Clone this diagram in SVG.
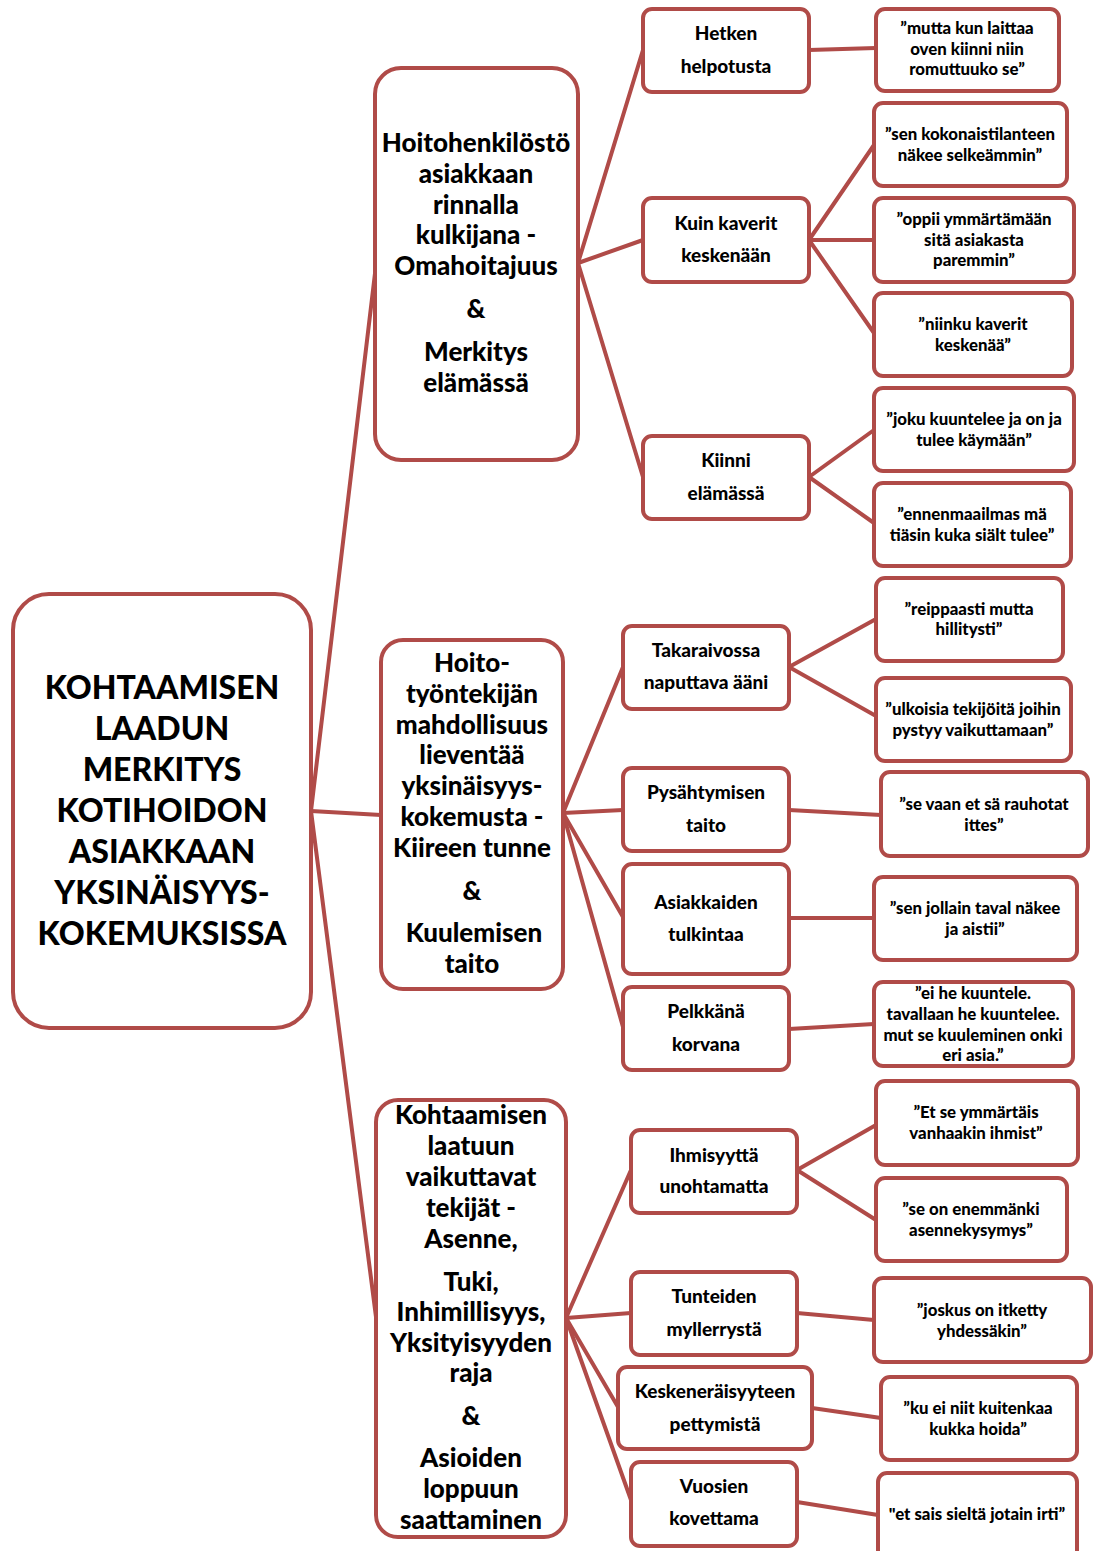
<svg xmlns="http://www.w3.org/2000/svg" width="1096" height="1551" viewBox="0 0 1096 1551">
<style>
.b{fill:#fff;stroke:#B04B48;stroke-width:4}
.c line{stroke:#B04B48;stroke-width:4;stroke-linecap:round}
text{font-family:Lato,"Open Sans","Liberation Sans",sans-serif;font-weight:900;fill:#000;text-anchor:middle}
.r{font-size:32px}
.m{font-size:26px}
.s{font-size:19px}
.q{font-size:16.8px}
</style>
<rect width="1096" height="1551" fill="#fff"/>
<g id="connectors" class="c">
<line x1="311" y1="811" x2="376" y2="265"/>
<line x1="311" y1="811" x2="381" y2="815"/>
<line x1="311" y1="811" x2="376" y2="1317"/>
<line x1="578" y1="263" x2="643" y2="50"/>
<line x1="578" y1="263" x2="643" y2="240"/>
<line x1="578" y1="263" x2="643" y2="477"/>
<line x1="809" y1="50" x2="876" y2="48"/>
<line x1="809" y1="240" x2="874" y2="145"/>
<line x1="809" y1="240" x2="874" y2="240"/>
<line x1="809" y1="240" x2="874" y2="333"/>
<line x1="809" y1="477" x2="874" y2="430"/>
<line x1="809" y1="477" x2="874" y2="523"/>
<line x1="563" y1="813" x2="623" y2="667"/>
<line x1="563" y1="813" x2="623" y2="810"/>
<line x1="563" y1="813" x2="623" y2="917"/>
<line x1="563" y1="813" x2="623" y2="1027"/>
<line x1="789" y1="667" x2="876" y2="619"/>
<line x1="789" y1="667" x2="876" y2="716"/>
<line x1="789" y1="810" x2="881" y2="815"/>
<line x1="789" y1="918" x2="874" y2="918"/>
<line x1="789" y1="1029" x2="874" y2="1024"/>
<line x1="566" y1="1318" x2="631" y2="1170"/>
<line x1="566" y1="1318" x2="631" y2="1313"/>
<line x1="566" y1="1318" x2="618" y2="1407"/>
<line x1="566" y1="1318" x2="631" y2="1500"/>
<line x1="797" y1="1170" x2="876" y2="1125"/>
<line x1="797" y1="1170" x2="876" y2="1220"/>
<line x1="797" y1="1313" x2="874" y2="1320"/>
<line x1="812" y1="1408" x2="881" y2="1418"/>
<line x1="797" y1="1502" x2="878" y2="1515"/>
</g>
<g id="root">
<rect class="b" x="13" y="594" width="298" height="434" rx="36"/>
<text class="r" x="162" y="699">KOHTAAMISEN</text>
<text class="r" x="162" y="740">LAADUN</text>
<text class="r" x="162" y="781">MERKITYS</text>
<text class="r" x="162" y="822">KOTIHOIDON</text>
<text class="r" x="162" y="863">ASIAKKAAN</text>
<text class="r" x="162" y="904">YKSINÄISYYS-</text>
<text class="r" x="162" y="945">KOKEMUKSISSA</text>
</g>
<g id="theme1">
<rect class="b" x="375" y="68" width="203" height="392" rx="26"/>
<text class="m" x="476" y="152">Hoitohenkilöstö</text>
<text class="m" x="476" y="183">asiakkaan</text>
<text class="m" x="476" y="214">rinnalla</text>
<text class="m" x="476" y="244">kulkijana -</text>
<text class="m" x="476" y="275">Omahoitajuus</text>
<text class="m" x="476" y="318">&amp;</text>
<text class="m" x="476" y="361">Merkitys</text>
<text class="m" x="476" y="392">elämässä</text>
</g>
<g id="theme2">
<rect class="b" x="381" y="640" width="182" height="349" rx="22"/>
<text class="m" x="472" y="672">Hoito-</text>
<text class="m" x="472" y="703">työntekijän</text>
<text class="m" x="472" y="734">mahdollisuus</text>
<text class="m" x="472" y="764">lieventää</text>
<text class="m" x="472" y="795">yksinäisyys-</text>
<text class="m" x="472" y="826">kokemusta -</text>
<text class="m" x="472" y="857">Kiireen tunne</text>
<text class="m" x="472" y="900">&amp;</text>
<text class="m" x="474" y="942">Kuulemisen</text>
<text class="m" x="472" y="973">taito</text>
</g>
<g id="theme3">
<rect class="b" x="376" y="1100" width="190" height="437" rx="22"/>
<text class="m" x="471" y="1124">Kohtaamisen</text>
<text class="m" x="471" y="1155">laatuun</text>
<text class="m" x="471" y="1186">vaikuttavat</text>
<text class="m" x="471" y="1217">tekijät -</text>
<text class="m" x="471" y="1248">Asenne,</text>
<text class="m" x="471" y="1291">Tuki,</text>
<text class="m" x="471" y="1321">Inhimillisyys,</text>
<text class="m" x="471" y="1352">Yksityisyyden</text>
<text class="m" x="471" y="1382">raja</text>
<text class="m" x="471" y="1425">&amp;</text>
<text class="m" x="471" y="1467">Asioiden</text>
<text class="m" x="471" y="1498">loppuun</text>
<text class="m" x="471" y="1529">saattaminen</text>
</g>
<g id="hetken">
<rect class="b" x="643" y="9" width="166" height="83" rx="9"/>
<text class="s" x="726" y="40">Hetken</text>
<text class="s" x="726" y="73">helpotusta</text>
</g>
<g id="kuin">
<rect class="b" x="643" y="198" width="166" height="84" rx="9"/>
<text class="s" x="726" y="230">Kuin kaverit</text>
<text class="s" x="726" y="262">keskenään</text>
</g>
<g id="kiinni">
<rect class="b" x="643" y="436" width="166" height="83" rx="9"/>
<text class="s" x="726" y="467">Kiinni</text>
<text class="s" x="726" y="500">elämässä</text>
</g>
<g id="takaraivossa">
<rect class="b" x="623" y="626" width="166" height="83" rx="9"/>
<text class="s" x="706" y="657">Takaraivossa</text>
<text class="s" x="706" y="689">naputtava ääni</text>
</g>
<g id="pysahtymisen">
<rect class="b" x="623" y="768" width="166" height="83" rx="9"/>
<text class="s" x="706" y="799">Pysähtymisen</text>
<text class="s" x="706" y="832">taito</text>
</g>
<g id="asiakkaiden">
<rect class="b" x="623" y="864" width="166" height="110" rx="9"/>
<text class="s" x="706" y="909">Asiakkaiden</text>
<text class="s" x="706" y="941">tulkintaa</text>
</g>
<g id="pelkkana">
<rect class="b" x="623" y="987" width="166" height="83" rx="9"/>
<text class="s" x="706" y="1018">Pelkkänä</text>
<text class="s" x="706" y="1051">korvana</text>
</g>
<g id="ihmisyytta">
<rect class="b" x="631" y="1130" width="166" height="83" rx="9"/>
<text class="s" x="714" y="1162">Ihmisyyttä</text>
<text class="s" x="714" y="1193">unohtamatta</text>
</g>
<g id="tunteiden">
<rect class="b" x="631" y="1272" width="166" height="83" rx="9"/>
<text class="s" x="714" y="1303">Tunteiden</text>
<text class="s" x="714" y="1336">myllerrystä</text>
</g>
<g id="keskeneraisyyteen">
<rect class="b" x="618" y="1367" width="194" height="82" rx="9"/>
<text class="s" x="715" y="1398">Keskeneräisyyteen</text>
<text class="s" x="715" y="1431">pettymistä</text>
</g>
<g id="vuosien">
<rect class="b" x="631" y="1462" width="166" height="84" rx="9"/>
<text class="s" x="714" y="1493">Vuosien</text>
<text class="s" x="714" y="1525">kovettama</text>
</g>
<g id="q1">
<rect class="b" x="876" y="9" width="183" height="82" rx="9"/>
<text class="q" x="967" y="34">”mutta kun laittaa</text>
<text class="q" x="967" y="55">oven kiinni niin</text>
<text class="q" x="967" y="75">romuttuuko se”</text>
</g>
<g id="q2">
<rect class="b" x="874" y="103" width="193" height="83" rx="9"/>
<text class="q" x="970" y="140">”sen kokonaistilanteen</text>
<text class="q" x="970" y="161">näkee selkeämmin”</text>
</g>
<g id="q3">
<rect class="b" x="874" y="198" width="200" height="84" rx="9"/>
<text class="q" x="974" y="225">”oppii ymmärtämään</text>
<text class="q" x="974" y="246">sitä asiakasta</text>
<text class="q" x="974" y="266">paremmin”</text>
</g>
<g id="q4">
<rect class="b" x="874" y="293" width="198" height="83" rx="9"/>
<text class="q" x="973" y="330">”niinku kaverit</text>
<text class="q" x="973" y="351">keskenää”</text>
</g>
<g id="q5">
<rect class="b" x="874" y="388" width="200" height="83" rx="9"/>
<text class="q" x="974" y="425">”joku kuuntelee ja on ja</text>
<text class="q" x="974" y="446">tulee käymään”</text>
</g>
<g id="q6">
<rect class="b" x="874" y="483" width="197" height="83" rx="9"/>
<text class="q" x="972" y="520">”ennenmaailmas mä</text>
<text class="q" x="972" y="541">tiäsin kuka siält tulee”</text>
</g>
<g id="q7">
<rect class="b" x="876" y="578" width="187" height="83" rx="9"/>
<text class="q" x="969" y="615">”reippaasti mutta</text>
<text class="q" x="969" y="635">hillitysti”</text>
</g>
<g id="q8">
<rect class="b" x="876" y="678" width="195" height="83" rx="9"/>
<text class="q" x="973" y="715">”ulkoisia tekijöitä joihin</text>
<text class="q" x="973" y="736">pystyy vaikuttamaan”</text>
</g>
<g id="q9">
<rect class="b" x="881" y="772" width="207" height="84" rx="9"/>
<text class="q" x="984" y="810">”se vaan et sä rauhotat</text>
<text class="q" x="984" y="831">ittes”</text>
</g>
<g id="q10">
<rect class="b" x="874" y="877" width="203" height="83" rx="9"/>
<text class="q" x="975" y="914">”sen jollain taval näkee</text>
<text class="q" x="975" y="935">ja aistii”</text>
</g>
<g id="q11">
<rect class="b" x="874" y="982" width="199" height="84" rx="9"/>
<text class="q" x="973" y="999">”ei he kuuntele.</text>
<text class="q" x="973" y="1020">tavallaan he kuuntelee.</text>
<text class="q" x="973" y="1041">mut se kuuleminen onki</text>
<text class="q" x="973" y="1061">eri asia.”</text>
</g>
<g id="q12">
<rect class="b" x="876" y="1081" width="202" height="84" rx="9"/>
<text class="q" x="976" y="1118">”Et se ymmärtäis</text>
<text class="q" x="976" y="1139">vanhaakin ihmist”</text>
</g>
<g id="q13">
<rect class="b" x="876" y="1178" width="191" height="83" rx="9"/>
<text class="q" x="971" y="1215">”se on enemmänki</text>
<text class="q" x="971" y="1236">asennekysymys”</text>
</g>
<g id="q14">
<rect class="b" x="874" y="1278" width="217" height="84" rx="9"/>
<text class="q" x="982" y="1316">”joskus on itketty</text>
<text class="q" x="982" y="1337">yhdessäkin”</text>
</g>
<g id="q15">
<rect class="b" x="881" y="1377" width="196" height="83" rx="9"/>
<text class="q" x="978" y="1414">”ku ei niit kuitenkaa</text>
<text class="q" x="978" y="1435">kukka hoida”</text>
</g>
<g id="q16">
<rect class="b" x="878" y="1473" width="199" height="100" rx="9"/>
<text class="q" x="977" y="1520">"et sais sieltä jotain irti”</text>
</g>
</svg>
